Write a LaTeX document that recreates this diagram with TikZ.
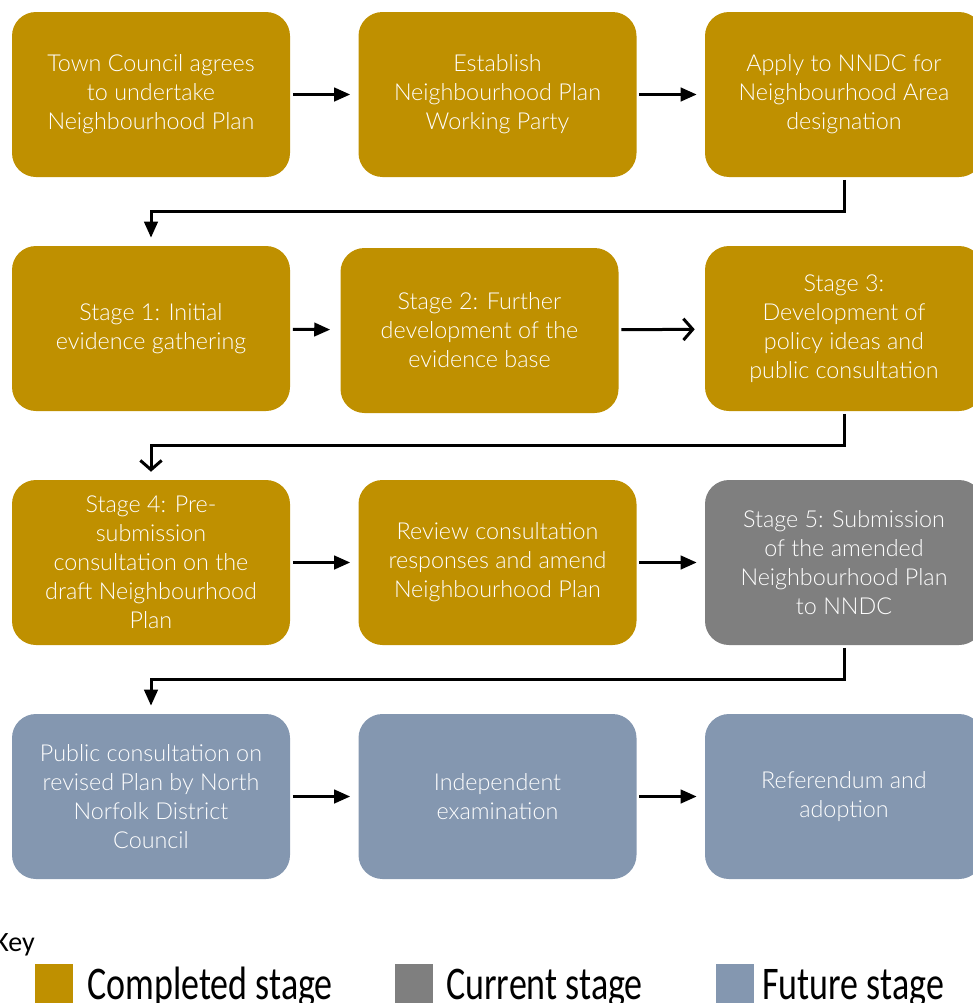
\documentclass[tikz,border=0pt]{standalone}
\usepackage{fontspec}
\usepackage{graphicx}
\setmainfont{Lato}[UprightFont=* Light]
\newfontfamily\keyfont{Carlito}
\usetikzlibrary{arrows.meta}
\definecolor{done}{HTML}{BF9000}
\definecolor{now}{HTML}{7F7F7F}
\definecolor{later}{HTML}{8497B0}
\begin{document}
\begin{tikzpicture}[x=0.75pt, y=-0.75pt,
	stage/.style={rounded corners=18pt, minimum width=208.5pt, minimum height=123.75pt, inner sep=0pt,
		text=white, align=center, font=\fontsize{17.5}{21.75}\selectfont},
	flow/.style={line width=2.25pt, -{Triangle[length=12pt, width=10pt]}},
	openflow/.style={line width=2.25pt, -{Straight Barb[length=7pt, width=16pt]}},
	keybox/.style={minimum width=28.5pt, minimum height=32pt, inner sep=0pt},
	keytext/.style={anchor=base west, inner sep=0pt, font=\keyfont\fontsize{27}{30}\selectfont}]
	\clip (0,0) rectangle (973,1003);

	\node[stage, fill=done] (agree) at (151,94.5) {Town Council agrees\\to undertake\\Neighbourhood Plan};
	\node[stage, fill=done] (party) at (497.5,94.5) {Establish\\Neighbourhood Plan\\Working Party};
	\node[stage, fill=done] (area) at (844,94.5) {Apply to NNDC for\\Neighbourhood Area\\designation};
	\node[stage, fill=done] (initial) at (151,328.5) {Stage 1: Initial\\evidence gathering};
	\node[stage, fill=done] (further) at (479.5,330.5) {Stage 2: Further\\development of the\\evidence base};
	\node[stage, fill=done] (policy) at (844,328.5) {Stage 3:\\Development of\\policy ideas and\\public consultation};
	\node[stage, fill=done] (presub) at (151,562.5) {Stage 4: Pre-\\submission\\consultation on the\\draft Neighbourhood\\Plan};
	\node[stage, fill=done] (review) at (497.5,562.5) {Review consultation\\responses and amend\\Neighbourhood Plan};
	\node[stage, fill=now] (submit) at (844,562.5) {Stage 5: Submission\\of the amended\\Neighbourhood Plan\\to NNDC};
	\node[stage, fill=later] (public) at (151,796.5) {Public consultation on\\revised Plan by North\\Norfolk District\\Council};
	\node[stage, fill=later] (exam) at (497.5,796.5) {Independent\\examination};
	\node[stage, fill=later] (refer) at (844,796.5) {Referendum and\\adoption};

	\coordinate (bend1) at (151,211);
	\coordinate (bend2) at (151,445);
	\coordinate (bend3) at (151,679);

	\draw[flow, shorten <=2pt, shorten >=6pt] (agree) -- (party);
	\draw[flow, shorten <=2pt, shorten >=6pt] (party) -- (area);
	\draw[flow, shorten <=2pt] (area.south) |- (bend1) -- ([yshift=6pt]initial.north);
	\draw[flow, shorten <=2pt, shorten >=7.5pt] (initial) -- (further);
	\draw[openflow, shorten <=2pt, shorten >=7.5pt] (further) -- (policy);
	\draw[openflow, shorten <=2pt] (policy.south) |- (bend2) -- ([yshift=6pt]presub.north);
	\draw[flow, shorten <=2pt, shorten >=6pt] (presub) -- (review);
	\draw[flow, shorten <=2pt, shorten >=6pt] (review) -- (submit);
	\draw[flow, shorten <=2pt] (submit.south) |- (bend3) -- ([yshift=6pt]public.north);
	\draw[flow, shorten <=2pt, shorten >=6pt] (public) -- (exam);
	\draw[flow, shorten <=2pt, shorten >=6pt] (exam) -- (refer);

	% key
	\node[anchor=base west, inner sep=0pt, font=\keyfont\fontsize{21}{24}\selectfont] (key) at (-6,951) {Key};
	\node[keybox, fill=done, anchor=north west] (kdone) at (35,964) {};
	\node[keybox, fill=now, anchor=north west] (know) at (395,964) {};
	\node[keybox, fill=later, anchor=north west] (klater) at (716,964) {};
	\node[keytext] (kdonetxt) at (87,999) {\scalebox{1}[1.3]{Completed stage}};
	\node[keytext] (knowtxt) at (446,999) {\scalebox{1}[1.3]{Current stage}};
	\node[keytext] (klatertxt) at (762,999) {\scalebox{1}[1.3]{Future stage}};
\end{tikzpicture}
\end{document}
